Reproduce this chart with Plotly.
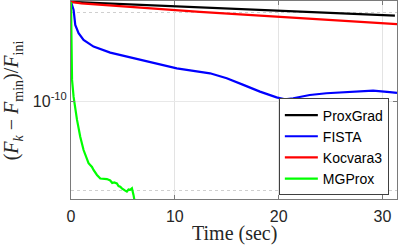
import numpy as np
import plotly.graph_objects as go

# ---- data (time in sec, log10 of relative objective gap) ----
prox_t = [0, 10, 20, 31.2]
prox_log = [-4.42, -4.67, -4.93, -5.19]

koc_t = [0, 1, 12.4, 20, 31.4]
koc_log = [-4.42, -4.50, -4.98, -5.24, -5.67]

fista_t = [0, 0.1, 0.25, 0.41, 0.73, 1.21, 2.17, 3.78, 5.38, 6.98, 8.58, 10.19,
           13.39, 15.0, 16.6, 18.2, 19.8, 20.6, 21.4, 23.0, 24.6, 26.2, 27.8,
           29.1, 30.7, 31.4]
fista_log = [-4.42, -4.58, -4.87, -5.71, -6.18, -6.56, -6.93, -7.27, -7.49,
             -7.68, -7.92, -8.15, -8.43, -8.71, -9.08, -9.46, -9.78, -9.89,
             -9.83, -9.65, -9.55, -9.49, -9.42, -9.40, -9.49, -9.53]

mg_t = [0, 0.05, 0.1, 0.25, 0.41, 0.58, 0.89, 1.21, 1.69, 2.02, 2.17, 2.34,
        2.5, 2.82, 3.1, 3.46, 3.78, 3.97, 4.16, 4.42, 4.58, 4.74, 4.90, 5.06,
        5.22, 5.38, 5.54, 5.70, 5.87, 6.02, 6.09, 6.12]
mg_log = [-4.42, -6.56, -8.80, -9.76, -10.49, -11.05, -11.99, -12.74, -13.48,
          -13.69, -13.86, -14.04, -14.14, -14.34, -14.34, -14.37, -14.45, -14.59,
          -14.56, -14.62, -14.76, -14.80, -14.89, -14.98, -15.02, -15.07, -14.96,
          -14.98, -14.89, -15.26, -15.49, -16.0]

names = ["ProxGrad", "FISTA", "Kocvara3", "MGProx"]
colors = ["#000000", "#0000ff", "#ff0000", "#00ff00"]
series_t = [prox_t, fista_t, koc_t, mg_t]
series_log = [prox_log, fista_log, koc_log, mg_log]

x_ticks = [0, 10, 20, 30]
y_tick_vals = [1e-10]
y_tick_text = ["10<sup>-10</sup>"]
y_minor_vals = [1e-5, 1e-15]

fig = go.Figure()
for n, c, t, lg in zip(names, colors, series_t, series_log):
    fig.add_trace(go.Scatter(x=t, y=10 ** np.array(lg), mode="lines", name=n,
                             line=dict(color=c, width=2.2)))

axis_col = "#7a7a7a"
fig.update_layout(
    width=399, height=248,
    margin=dict(l=70.7, r=2, t=1, b=49),
    plot_bgcolor="white", paper_bgcolor="white",
    font=dict(family="Liberation Sans, Arial", size=16, color="#262626"),
    showlegend=True,
    legend=dict(x=0.975, xanchor="right", y=0.018, yanchor="bottom",
                bgcolor="white", bordercolor="#404040", borderwidth=1,
                font=dict(size=14, color="#000000"), itemwidth=33,
                tracegroupgap=0),
    xaxis=dict(range=[0, 31.4], tickvals=x_ticks, showgrid=True,
               gridcolor="#e3e3e3", gridwidth=1, zeroline=False,
               showline=True, linecolor=axis_col, linewidth=1, mirror="ticks",
               ticks="inside", ticklen=4, tickcolor=axis_col,
               ticklabelstandoff=3,
               tickfont=dict(size=16, color="#262626")),
    yaxis=dict(type="log", range=[-15.49, -4.37], tickvals=y_tick_vals,
               ticktext=y_tick_text, showgrid=True, gridcolor="#e8e8e8",
               gridwidth=1, zeroline=False, showline=True, linecolor=axis_col,
               linewidth=1, mirror="ticks", ticks="inside", ticklen=4,
               tickcolor=axis_col, tickfont=dict(size=16, color="#262626"),
               minor=dict(tickvals=y_minor_vals, showgrid=True,
                          gridcolor="#cfcfcf", griddash="dot", ticks="")),
    annotations=[
        dict(text="Time (sec)", xref="paper", yref="paper", x=0.5, y=-0.105,
             xanchor="center", yanchor="top", showarrow=False,
             font=dict(family="Liberation Serif, Times New Roman", size=20,
                       color="#262626")),
        dict(text="(<i>F<sub>k</sub></i> − <i>F</i><sub>min</sub>)/<i>F</i><sub>ini</sub>",
             xref="paper", yref="paper", x=-0.18, y=0.5, xanchor="center",
             yanchor="middle", textangle=-90, showarrow=False,
             font=dict(family="Liberation Serif, Times New Roman", size=20,
                       color="#262626")),
    ],
)

fig.write_html("out.html", config={"displayModeBar": False},
               post_script="document.body.style.margin='0';document.body.style.overflow='hidden';")
